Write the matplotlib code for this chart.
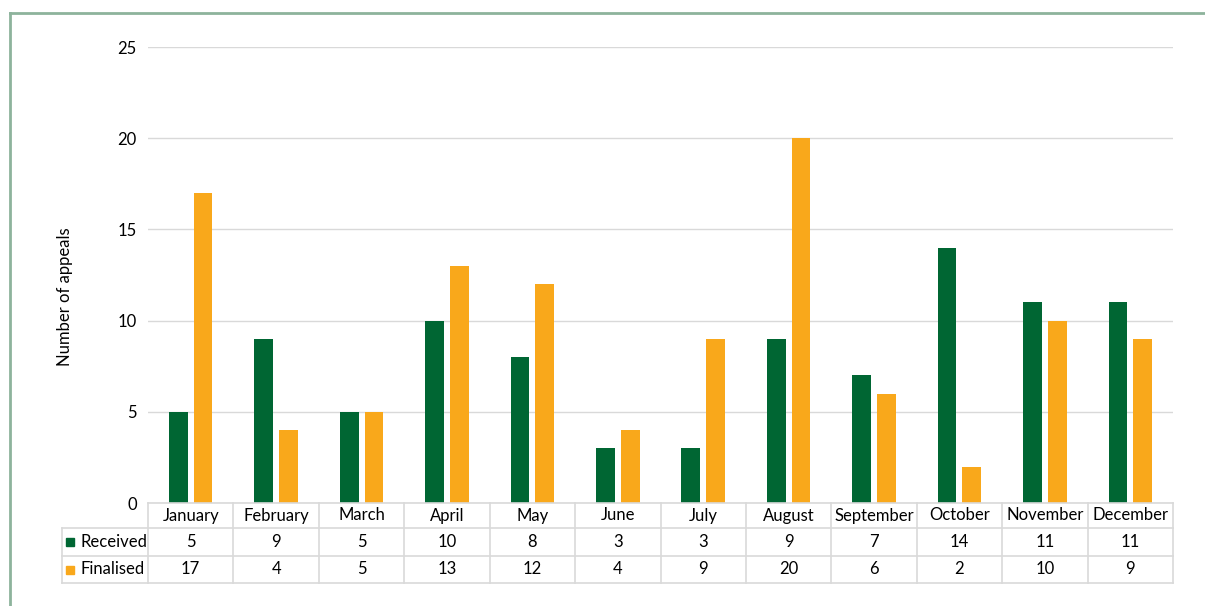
"""Monthly appeals received and finalised, bar chart with data table underneath."""

import numpy as np
from matplotlib import pyplot as plt
from matplotlib.transforms import blended_transform_factory
from matplotlib.patches import Rectangle

months = ['January', 'February', 'March', 'April', 'May', 'June',
          'July', 'August', 'September', 'October', 'November', 'December']
received = [5, 9, 5, 10, 8, 3, 3, 9, 7, 14, 11, 11]
finalised = [17, 4, 5, 13, 12, 4, 9, 20, 6, 2, 10, 9]

GREEN = '#006633'
ORANGE = '#f9a81b'
GRID = '#d9d9d9'
FONT = 'Lato'

W, H = 1205, 606


def fx(px):
    return px / W


def fy(py):
    # pixel rows counted from the top
    return 1 - py / H


def main():
    plt.rcParams['font.family'] = [FONT, 'DejaVu Sans']
    fig = plt.figure(figsize=(W / 100, H / 100), dpi=100)

    # outer frame, only top and left edges fall inside the canvas
    fig.add_artist(plt.Line2D([fx(10), 1], [fy(13), fy(13)], color='#8db39c', lw=2))
    fig.add_artist(plt.Line2D([fx(10), fx(10)], [fy(13), 0], color='#8db39c', lw=2))

    ax = fig.add_axes([fx(148), fy(503), fx(1173) - fx(148), fy(47) - fy(503)])
    x = np.arange(len(months))
    width = 0.22
    off = 0.145
    ax.bar(x - off, received, width, color=GREEN, zorder=3)
    ax.bar(x + off, finalised, width, color=ORANGE, zorder=3)

    ax.set_xlim(-0.5, len(months) - 0.5)
    ax.set_ylim(0, 25)
    ax.set_yticks(range(0, 26, 5))
    ax.yaxis.grid(True, color=GRID, lw=1, zorder=0)
    ax.tick_params(axis='y', length=0, pad=8, labelsize=12)
    ax.set_xticks([])
    for s in ax.spines.values():
        s.set_visible(False)

    fig.text(fx(65), fy(297), 'Number of appeals', rotation=90,
             ha='center', va='center', fontsize=12)

    # data table below the plot
    tr = blended_transform_factory(ax.transData, fig.transFigure)
    rows = [503, 528, 556, 583]
    left = -0.5
    lw = 1.2
    fig.add_artist(plt.Line2D([fx(148), fx(1173)], [fy(503)] * 2, color=GRID, lw=lw))
    for r in rows[1:]:
        fig.add_artist(plt.Line2D([fx(62), fx(1173)], [fy(r)] * 2, color=GRID, lw=lw))
    fig.add_artist(plt.Line2D([fx(62)] * 2, [fy(528), fy(583)], color=GRID, lw=lw))
    for i in range(len(months) + 1):
        xe = left + i
        ax.add_line(plt.Line2D([xe, xe], [fy(503), fy(583)], color=GRID, lw=lw,
                               transform=tr, clip_on=False))

    mid = [(rows[k] + rows[k + 1]) / 2 for k in range(3)]
    for i, m in enumerate(months):
        ax.text(i, fy(mid[0]), m, transform=tr, ha='center', va='center', fontsize=12)
        ax.text(i, fy(mid[1]), str(received[i]), transform=tr, ha='center', va='center', fontsize=12)
        ax.text(i, fy(mid[2]), str(finalised[i]), transform=tr, ha='center', va='center', fontsize=12)

    for k, (name, col) in enumerate([('Received', GREEN), ('Finalised', ORANGE)]):
        yc = mid[k + 1]
        fig.add_artist(Rectangle((fx(66), fy(yc + 4)), fx(8), fy(yc - 4) - fy(yc + 4),
                                 color=col, transform=fig.transFigure))
        fig.text(fx(80), fy(yc), name, ha='left', va='center', fontsize=12)

    fig.savefig('out.png', dpi=100)


if __name__ == '__main__':
    main()
